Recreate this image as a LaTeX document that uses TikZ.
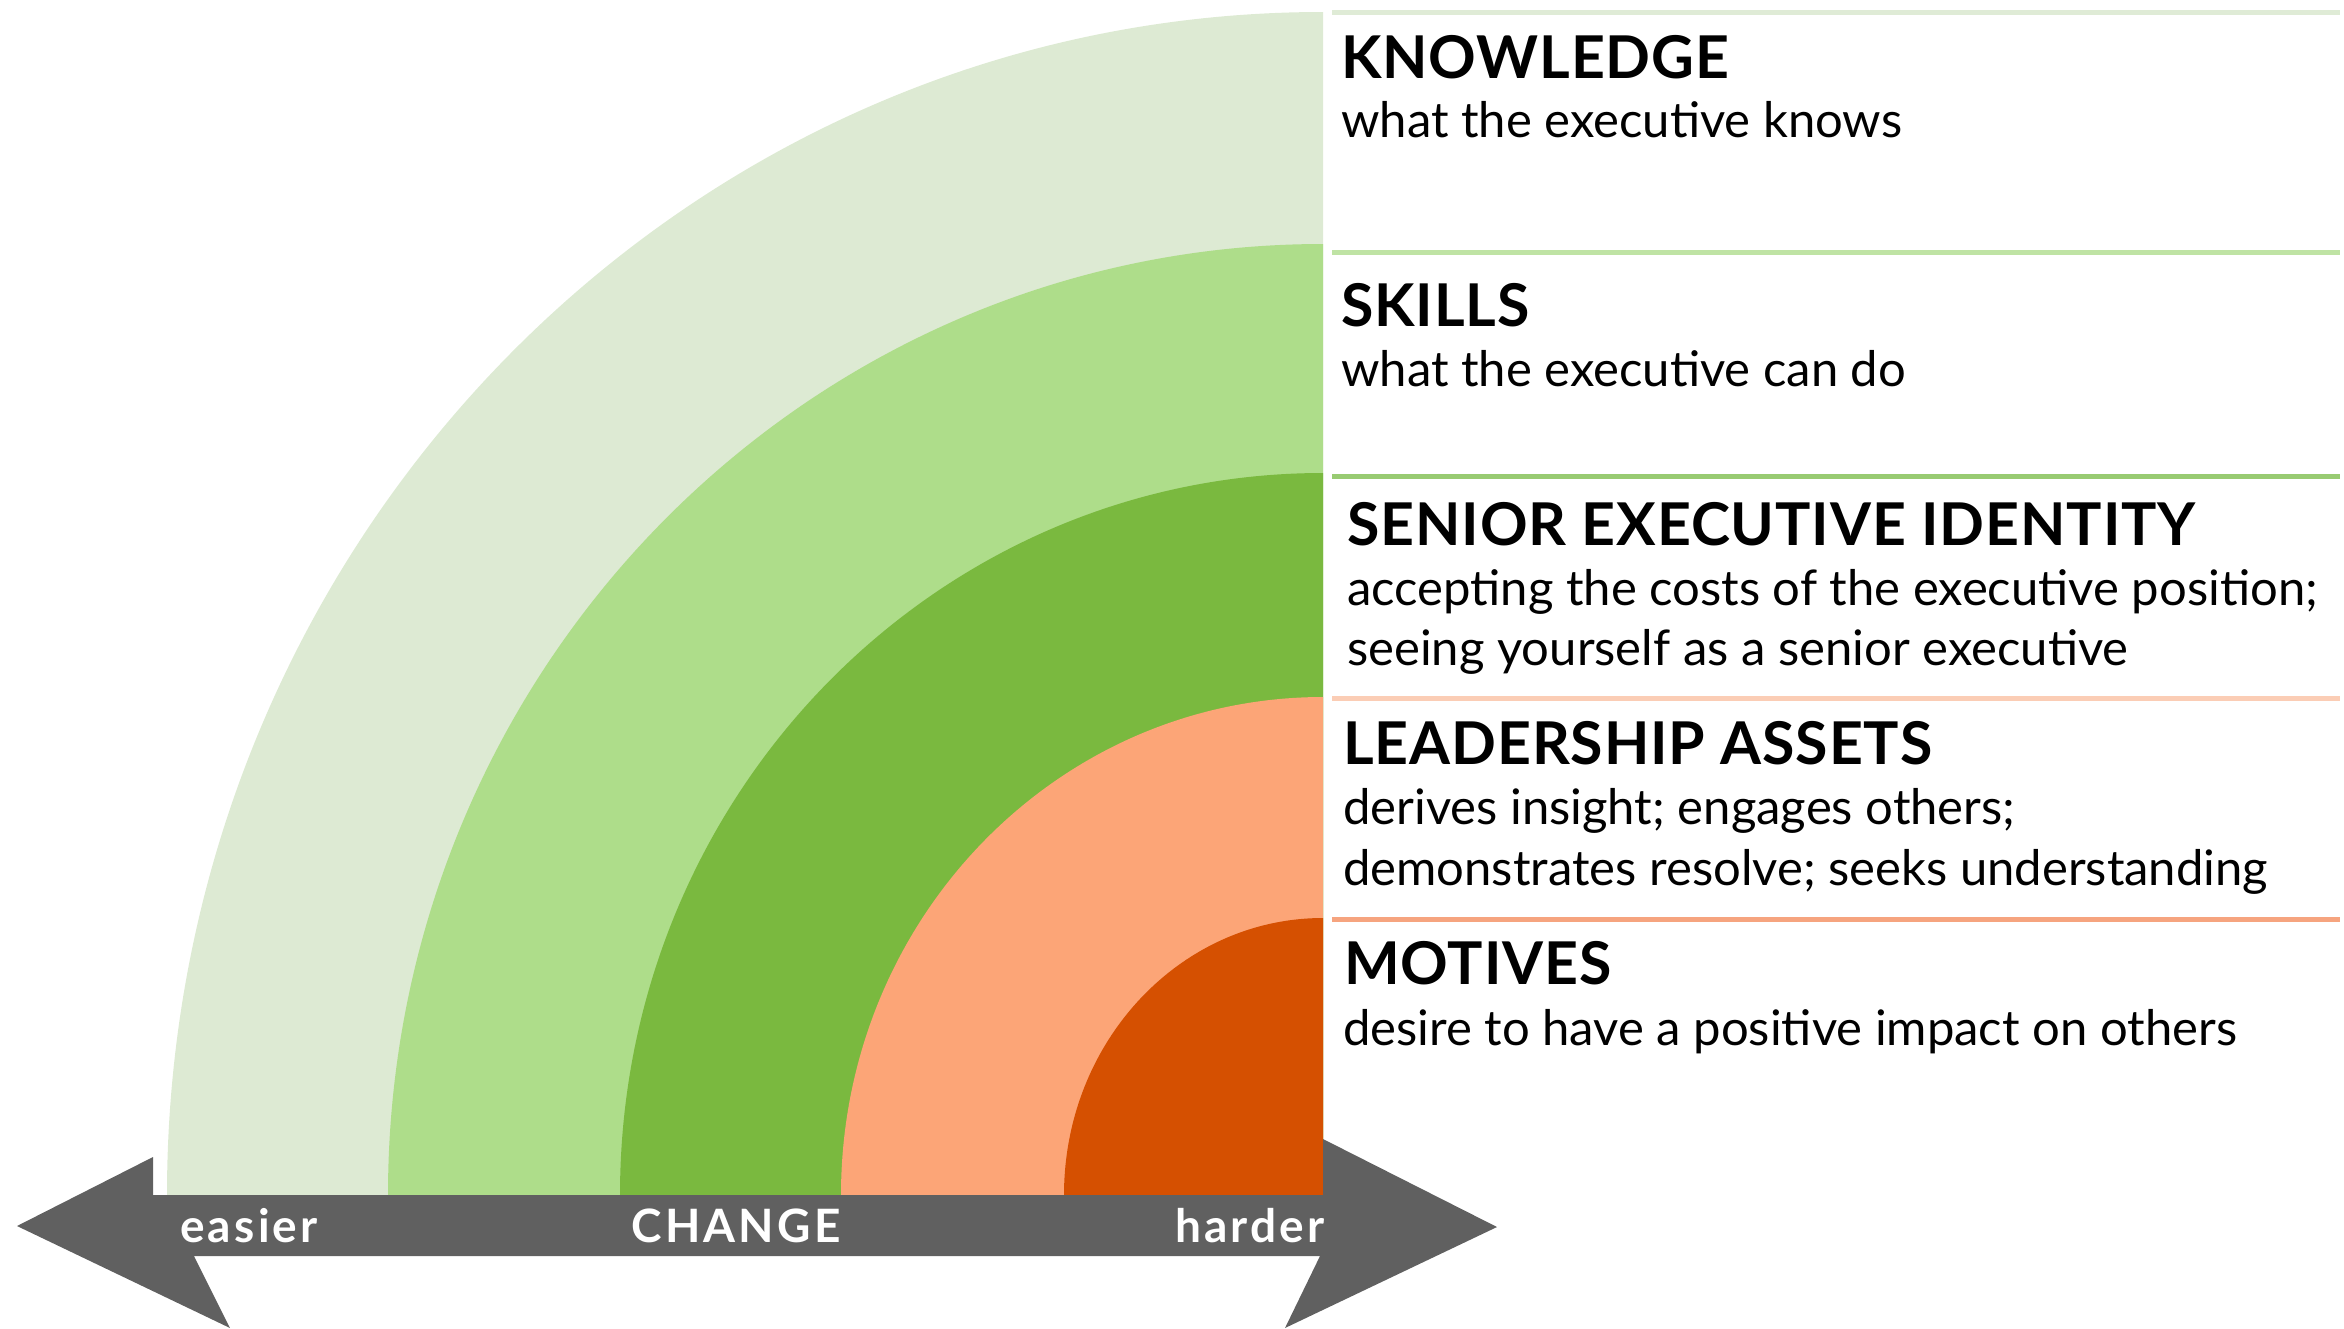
\documentclass[tikz,border=0pt]{standalone}
\usepackage{fontspec}
\setmainfont{Lato}
\definecolor{cA}{HTML}{DDEAD3}
\definecolor{cB}{HTML}{AEDD8A}
\definecolor{cC}{HTML}{7AB93F}
\definecolor{cD}{HTML}{FCA577}
\definecolor{cE}{HTML}{D55001}
\definecolor{lA}{HTML}{DFEBD6}
\definecolor{lB}{HTML}{BFE3A4}
\definecolor{lC}{HTML}{98CB72}
\definecolor{lD}{HTML}{FBCDB5}
\definecolor{lE}{HTML}{F6A47F}
\definecolor{arrowgray}{HTML}{606060}
\tikzset{
  head/.style={anchor=base west, inner sep=0pt, font=\fontsize{59}{64}\selectfont\bfseries\addfontfeature{LetterSpace=1.5}},
  body/.style={anchor=base west, inner sep=0pt, font=\fontsize{49}{60}\selectfont},
  bandtxt/.style={inner sep=0pt, text=white, font=\fontsize{46}{50}\selectfont\bfseries\addfontfeature{LetterSpace=7}},
  sepline/.style={line width=5pt}
}
\begin{document}
\begin{tikzpicture}[x=1pt,y=-1pt]
\useasboundingbox (0,0) rectangle (2344,1328);
% quarter ellipses
\coordinate (ctr) at (1323,1195);
\fill[cA] (ctr) -- (167,1195) arc[start angle=180, end angle=270, x radius=1156, y radius=1183] -- cycle;
\fill[cB] (ctr) -- (388,1195) arc[start angle=180, end angle=270, x radius=935, y radius=951] -- cycle;
\fill[cC] (ctr) -- (620,1195) arc[start angle=180, end angle=270, x radius=703, y radius=722] -- cycle;
\fill[cD] (ctr) -- (841,1195) arc[start angle=180, end angle=270, x radius=482, y radius=498] -- cycle;
\fill[cE] (ctr) -- (1064,1195) arc[start angle=180, end angle=270, x radius=259, y radius=277] -- cycle;
% double arrow
\fill[arrowgray] (17,1226) -- (153,1157) -- (153,1195) -- (1323,1195) -- (1323,1139)
  -- (1497,1227) -- (1285,1328) -- (1320,1256) -- (194,1256) -- (230,1328) -- cycle;
\node[bandtxt, anchor=base west] (easier) at (180,1242) {easier};
\node[bandtxt, anchor=base] (change) at (736,1242) {CHANGE};
\node[bandtxt, anchor=base east] (harder) at (1325,1242) {harder};
% separator lines
\draw[sepline, lA] (1332,12) -- (2340,12);
\draw[sepline, lB] (1332,252) -- (2340,252);
\draw[sepline, lC] (1332,476) -- (2340,476);
\draw[sepline, lD] (1332,698) -- (2340,698);
\draw[sepline, lE] (1332,919) -- (2340,919);
% texts
\node[head] (kh) at (1341,78) {KNOWLEDGE};
\node[body] (kb) at (1341,137) {what the executive knows};
\node[head] (sh) at (1341,326) {SKILLS};
\node[body] (sb) at (1341,386) {what the executive can do};
\node[head] (ih) at (1347,545) {SENIOR EXECUTIVE IDENTITY};
\node[body] (ib1) at (1347,605) {accepting the costs of the executive position;};
\node[body] (ib2) at (1347,665) {seeing yourself as a senior executive};
\node[head] (lh) at (1343,764) {LEADERSHIP ASSETS};
\node[body] (lb1) at (1343,824) {derives insight; engages others;};
\node[body] (lb2) at (1343,885) {demonstrates resolve; seeks understanding};
\node[head] (mh) at (1344,984) {MOTIVES};
\node[body] (mb) at (1343,1045) {desire to have a positive impact on others};
\end{tikzpicture}
\end{document}
